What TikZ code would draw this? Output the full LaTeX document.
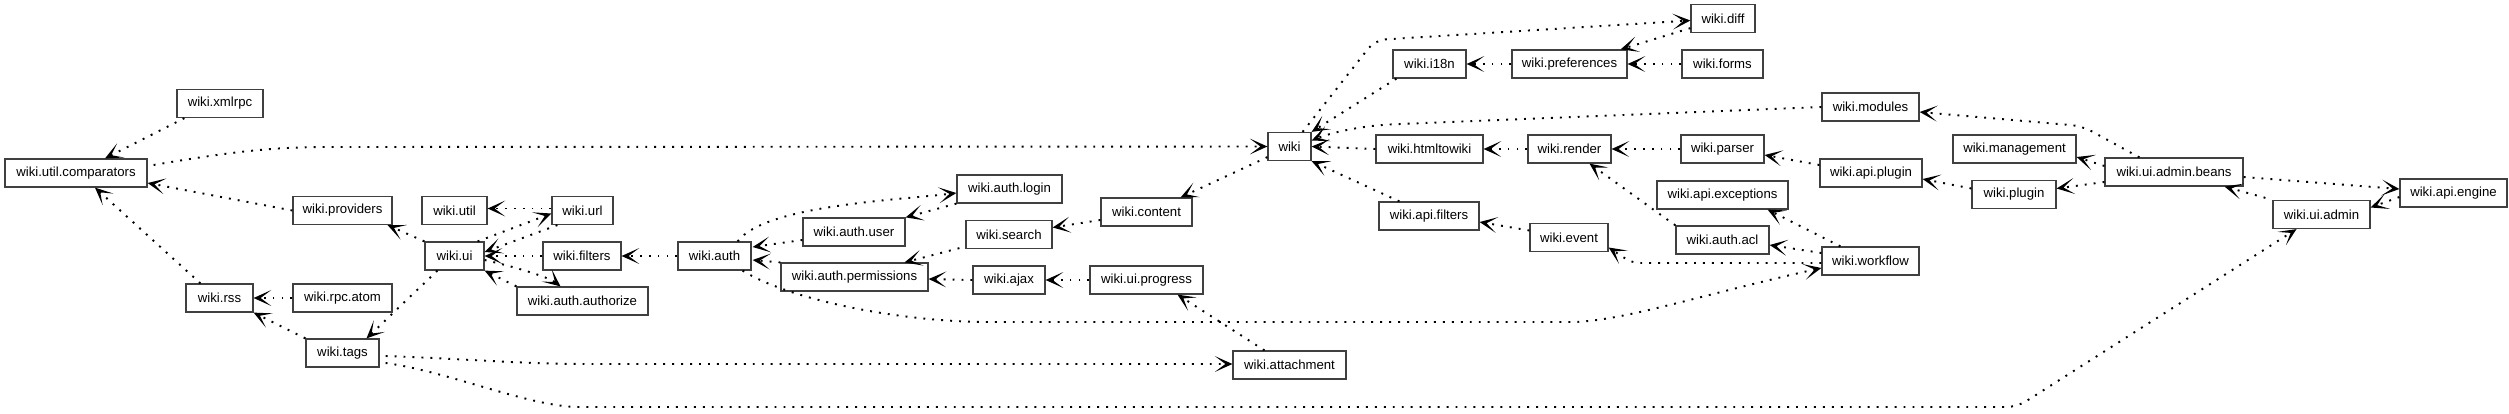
\documentclass[tikz,border=0pt]{standalone}
\usepackage{fontspec}
\setmainfont{Liberation Sans}
\usetikzlibrary{arrows.meta}
\begin{document}
\begin{tikzpicture}[x=0.02cm,y=-0.02cm,
 box/.style={draw=black!75, line width=0.7pt, fill=white, inner sep=0pt, minimum height=0.56cm, font=\fontsize{7.5}{9}\selectfont},
 dep/.style={line width=1.1pt, dash pattern=on 1.1pt off 4pt, rounded corners=6, -{Stealth[length=10pt,width=9pt,inset=6pt]}},
]
\useasboundingbox (0,0) rectangle (2509,413);
% nodes
\node[box, minimum width=1.72cm] (xmlrpc) at (220,103.5) {wiki.xmlrpc};
\node[box, minimum width=2.84cm] (comparators) at (76,173) {wiki.util.comparators};
\node[box, minimum width=1.98cm] (providers) at (342.5,210.5) {wiki.providers};
\node[box, minimum width=1.34cm] (rss) at (219.5,298) {wiki.rss};
\node[box, minimum width=1.98cm] (rpcatom) at (342.5,298) {wiki.rpc.atom};
\node[box, minimum width=1.46cm] (tags) at (342.5,353) {wiki.tags};
\node[box, minimum width=1.30cm] (util) at (454.5,210.5) {wiki.util};
\node[box, minimum width=1.22cm] (url) at (582.5,210.5) {wiki.url};
\node[box, minimum width=1.18cm] (ui) at (454.5,256) {wiki.ui};
\node[box, minimum width=1.56cm] (filters) at (582,256) {wiki.filters};
\node[box, minimum width=1.46cm] (auth) at (714.5,256) {wiki.auth};
\node[box, minimum width=2.62cm] (authorize) at (582.5,301) {wiki.auth.authorize};
\node[box, minimum width=2.10cm] (login) at (1009.5,189) {wiki.auth.login};
\node[box, minimum width=2.04cm] (user) at (854,232) {wiki.auth.user};
\node[box, minimum width=1.82cm] (content) at (1146.5,212) {wiki.content};
\node[box, minimum width=1.72cm] (search) at (1009,234.5) {wiki.search};
\node[box, minimum width=2.94cm] (permissions) at (854.5,277) {wiki.auth.permissions};
\node[box, minimum width=1.44cm] (ajax) at (1009,280) {wiki.ajax};
\node[box, minimum width=2.26cm] (progress) at (1146.5,280) {wiki.ui.progress};
\node[box, minimum width=2.26cm] (attachment) at (1289.5,365) {wiki.attachment};
\node[box, minimum width=1.28cm] (diff) at (1723,18.5) {wiki.diff};
\node[box, minimum width=1.46cm] (i18n) at (1429.5,64) {wiki.i18n};
\node[box, minimum width=2.30cm] (preferences) at (1569.5,64) {wiki.preferences};
\node[box, minimum width=1.62cm] (forms) at (1722.5,64) {wiki.forms};
\node[box, minimum width=0.86cm] (wiki) at (1289.5,146.5) {wiki};
\node[box, minimum width=2.14cm] (htmltowiki) at (1429.5,149) {wiki.htmltowiki};
\node[box, minimum width=1.66cm] (render) at (1569.5,149) {wiki.render};
\node[box, minimum width=1.66cm] (parser) at (1722.5,149) {wiki.parser};
\node[box, minimum width=2.62cm] (exceptions) at (1722.5,195) {wiki.api.exceptions};
\node[box, minimum width=2.00cm] (apifilters) at (1429,216) {wiki.api.filters};
\node[box, minimum width=1.56cm] (event) at (1569,237.5) {wiki.event};
\node[box, minimum width=1.86cm] (acl) at (1722.5,240) {wiki.auth.acl};
\node[box, minimum width=1.94cm] (modules) at (1870.5,107) {wiki.modules};
\node[box, minimum width=2.46cm] (management) at (2014.5,149) {wiki.management};
\node[box, minimum width=2.04cm] (apiplugin) at (1871,173) {wiki.api.plugin};
\node[box, minimum width=1.68cm] (plugin) at (2014,194.5) {wiki.plugin};
\node[box, minimum width=2.76cm] (beans) at (2174,172) {wiki.ui.admin.beans};
\node[box, minimum width=2.14cm] (engine) at (2453.5,193) {wiki.api.engine};
\node[box, minimum width=1.94cm] (uiadmin) at (2321.5,214.5) {wiki.ui.admin};
\node[box, minimum width=1.94cm] (workflow) at (1870.5,261) {wiki.workflow};
% edges
\draw[dep] ([shift={(8,0)}]xmlrpc.south west) -- ([shift={(29,0)}]comparators.north);
\draw[dep] ([shift={(6,-8)}]comparators.east) .. controls (240,150) and (280,147) .. (340,147) -- (wiki.west);
\draw[dep] (providers.west) -- ([shift={(0,10)}]comparators.east);
\draw[dep] ([shift={(-19,0)}]rss.north) -- ([shift={(19,0)}]comparators.south);
\draw[dep] (rpcatom.west) -- (rss.east);
\draw[dep] (tags.north west) -- (rss.south east);
\draw[dep] (ui.north west) -- ([shift={(-5,0)}]providers.south east);
\draw[dep] ([shift={(13,0)}]ui.south west) -- ([shift={(24,0)}]tags.north);
\draw[dep] ([shift={(6,3)}]tags.east) .. controls (470,359) and (520,364) .. (600,364) -- ([shift={(0,-1)}]attachment.west);
\draw[dep] ([shift={(6,10)}]tags.east) .. controls (450,372) and (530,407) .. (590,407) -- (2017,407) -- ([shift={(-25,0)}]uiadmin.south);
\draw[dep] ([shift={(0,-2)}]url.west) -- ([shift={(0,-2)}]util.east);
\draw[dep] ([shift={(-7,0)}]ui.north east) -- ([shift={(0,3)}]url.west);
\draw[dep] ([shift={(6,0)}]url.south west) -- ([shift={(0,-4)}]ui.east);
\draw[dep] (filters.west) -- (ui.east);
\draw[dep] ([shift={(0,4)}]ui.east) .. controls (520,268) and (550,278) .. ([shift={(-22,0)}]authorize.north);
\draw[dep] (authorize.north west) -- (ui.south east);
\draw[dep] (auth.west) -- (filters.east);
\draw[dep] ([shift={(0,8)}]user.west) -- ([shift={(1,-9)}]auth.east);
\draw[dep] (permissions.north west) -- ([shift={(1,4)}]auth.east);
\draw[dep] ([shift={(-14,0)}]auth.north east) .. controls (765,205) and (900,200) .. ([shift={(0,4)}]login.west);
\draw[dep] (login.south west) -- (user.north east);
\draw[dep] ([shift={(-9,0)}]auth.south east) .. controls (790,300) and (900,322) .. (1000,322) -- (1560,322) .. controls (1620,322) and (1700,295) .. ([shift={(0,7)}]workflow.west);
\draw[dep] ([shift={(0,8)}]content.west) -- ([shift={(0,-7)}]search.east);
\draw[dep] ([shift={(-6,-1)}]search.south west) -- ([shift={(50,0)}]permissions.north);
\draw[dep] (ajax.west) -- ([shift={(0,2)}]permissions.east);
\draw[dep] (progress.west) -- (ajax.east);
\draw[dep] ([shift={(-25,0)}]attachment.north) -- ([shift={(31,0)}]progress.south);
\draw[dep] ([shift={(0,-4)}]wiki.south west) -- ([shift={(-12,0)}]content.north east);
\draw[dep] ([shift={(4,0)}]i18n.south west) -- (wiki.north east);
\draw[dep] ([shift={(-9,0)}]wiki.north east) -- (1375,40) -- ([shift={(0,2)}]diff.west);
\draw[dep] ([shift={(0,-5)}]diff.south west) -- ([shift={(-7,0)}]preferences.north east);
\draw[dep] (preferences.west) -- (i18n.east);
\draw[dep] (forms.west) -- (preferences.east);
\draw[dep] (modules.west) -- (1400,124) .. controls (1360,126) and (1330,133) .. ([shift={(0,-6)}]wiki.east);
\draw[dep] (htmltowiki.west) -- (wiki.east);
\draw[dep] ([shift={(21,0)}]apifilters.north west) -- (wiki.south east);
\draw[dep] (render.west) -- (htmltowiki.east);
\draw[dep] (parser.west) -- (render.east);
\draw[dep] ([shift={(0,-8)}]apiplugin.west) -- ([shift={(0,6)}]parser.east);
\draw[dep] (acl.north west) -- ([shift={(20,0)}]render.south);
\draw[dep] ([shift={(0,-7)}]event.west) -- ([shift={(0,6)}]apifilters.east);
\draw[dep] ([shift={(0,2)}]workflow.west) -- (1650,263) .. controls (1630,263) and (1620,255) .. ([shift={(0,10)}]event.east);
\draw[dep] ([shift={(0,-8)}]workflow.west) -- ([shift={(0,5)}]acl.east);
\draw[dep] ([shift={(19,0)}]workflow.north west) -- ([shift={(-21,0)}]exceptions.south east);
\draw[dep] ([shift={(35,0)}]beans.north west) -- (2082,126) -- ([shift={(0,5)}]modules.east);
\draw[dep] ([shift={(0,-6)}]beans.west) -- ([shift={(0,8)}]management.east);
\draw[dep] ([shift={(0,10)}]beans.west) -- ([shift={(0,-6)}]plugin.east);
\draw[dep] ([shift={(0,-6)}]plugin.west) -- ([shift={(0,6)}]apiplugin.east);
\draw[dep] ([shift={(0,5)}]beans.east) -- ([shift={(0,-4)}]engine.west);
\draw[dep] ([shift={(-7,-2)}]uiadmin.north west) -- ([shift={(-19,0)}]beans.south east);
\draw[dep] ([shift={(0,4)}]engine.west) -- ([shift={(0,-7)}]uiadmin.east);
\end{tikzpicture}
\end{document}
